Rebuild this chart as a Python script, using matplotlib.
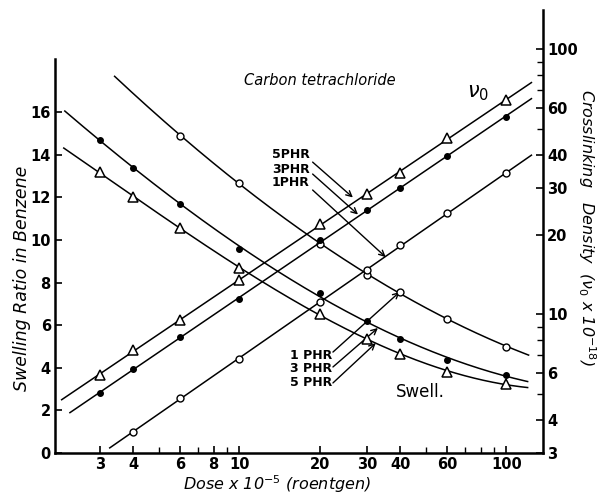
import numpy as np
import matplotlib
matplotlib.use('Agg')
import matplotlib.pyplot as plt
from matplotlib.ticker import FixedLocator, FixedFormatter, NullFormatter

plt.rcParams['mathtext.fontset'] = 'dejavusans'

# Dose (x 10^-5 roentgen)
dose = [3, 4, 6, 10, 20, 30, 40, 60, 100]

# Crosslinking density nu0 (x 10^-18) -- right axis
nu_5phr = [5.9, 7.35, 9.5, 13.5, 21.9, 28.5, 34.2, 46.3, 64.5]
nu_3phr = [5.05, 6.2, 8.2, 11.4, 19.1, 24.8, 30.0, 39.6, 55.6]
nu_1phr_dose = [4, 6, 10, 20, 30, 40, 60, 100]
nu_1phr = [3.6, 4.84, 6.8, 11.1, 14.7, 18.3, 24.1, 34.1]

# Swelling ratio in benzene -- left axis
sw_1phr_dose = [6, 10, 20, 30, 40, 60, 100]
sw_1phr = [14.9, 12.7, 9.8, 8.36, 7.56, 6.3, 5.0]
sw_3phr = [14.7, 13.4, 11.7, 9.6, 7.5, 6.2, 5.35, 4.37, 3.66]
sw_5phr = [13.2, 12.0, 10.55, 8.7, 6.55, 5.35, 4.65, 3.8, 3.24]

# dose extent of the drawn curves
nu_5phr_span = [2.16, 124]
nu_3phr_span = [2.32, 124]
nu_1phr_span = [3.27, 124]
sw_1phr_span = [3.41, 121]
sw_3phr_span = [2.22, 120]
sw_5phr_span = [2.2, 120]

x_ticks = [3, 4, 6, 8, 10, 20, 30, 40, 60, 100]
x_minor = [5, 7, 9, 50, 70, 80, 90]
left_ticks = [0, 2, 4, 6, 8, 10, 12, 14, 16]
right_ticks = [3, 4, 6, 10, 20, 30, 40, 60, 100]
right_minor = [5, 7, 8, 9, 50, 70, 80, 90]

fig = plt.figure(figsize=(6, 4.96), dpi=100)
ax = fig.add_axes([0.0917, 0.0867, 0.8133, 0.893])
ax.set_xscale('log')
ax.set_xlim(2.04, 137)
ax.set_ylim(0, 20.8)
ax2 = ax.twinx()
ax2.set_yscale('log')
ax2.set_ylim(3, 140.7)

lw = 1.1
def swell_curve(x, y, span):
    c = np.polyfit(np.log10(x), y, 3)
    xs = np.logspace(np.log10(span[0]), np.log10(span[1]), 200)
    ax.plot(xs, np.polyval(c, np.log10(xs)), 'k-', lw=lw, zorder=2)

def nu_curve(x, y, span):
    c = np.polyfit(np.log10(x), np.log10(y), 1)
    xs = np.logspace(np.log10(span[0]), np.log10(span[1]), 50)
    ax2.plot(xs, 10 ** np.polyval(c, np.log10(xs)), 'k-', lw=lw, zorder=2)

swell_curve(sw_1phr_dose, sw_1phr, sw_1phr_span)
swell_curve(dose, sw_3phr, sw_3phr_span)
swell_curve(dose, sw_5phr, sw_5phr_span)
nu_curve(dose, nu_5phr, nu_5phr_span)
nu_curve(dose, nu_3phr, nu_3phr_span)
nu_curve(nu_1phr_dose, nu_1phr, nu_1phr_span)

open_c = dict(marker='o', ls='none', ms=5, mfc='white', mec='k', mew=1.0, zorder=4)
fill_c = dict(marker='o', ls='none', ms=4, mfc='k', mec='k', zorder=4)
tri = dict(marker='^', ls='none', ms=7, mfc='white', mec='k', mew=1.1, zorder=4)

ax.plot(sw_1phr_dose, sw_1phr, **open_c)
ax.plot(dose, sw_3phr, **fill_c)
ax.plot(dose, sw_5phr, **tri)
ax2.plot(nu_1phr_dose, nu_1phr, **open_c)
ax2.plot(dose, nu_3phr, **fill_c)
ax2.plot(dose, nu_5phr, **tri)

# spines
for s in ['top', 'right']:
    ax.spines[s].set_visible(False)
for s in ['top', 'left', 'bottom']:
    ax2.spines[s].set_visible(False)
ax.spines['left'].set_bounds(0, 18.5)
for s in [ax.spines['left'], ax.spines['bottom'], ax2.spines['right']]:
    s.set_linewidth(1.8)

ax.xaxis.set_major_locator(FixedLocator(x_ticks))
ax.xaxis.set_major_formatter(FixedFormatter([str(t) for t in x_ticks]))
ax.xaxis.set_minor_locator(FixedLocator(x_minor))
ax.xaxis.set_minor_formatter(NullFormatter())
ax.yaxis.set_major_locator(FixedLocator(left_ticks))
ax.set_yticklabels([str(t) for t in left_ticks])
ax2.yaxis.set_major_locator(FixedLocator(right_ticks))
ax2.yaxis.set_major_formatter(FixedFormatter([str(t) for t in right_ticks]))
ax2.yaxis.set_minor_locator(FixedLocator(right_minor))
ax2.yaxis.set_minor_formatter(NullFormatter())
for a in (ax, ax2):
    a.tick_params(which='major', direction='in', length=5, width=1.2, labelsize=10.5, pad=3)
    a.tick_params(which='minor', direction='in', length=4, width=1.0)
ax.tick_params(axis='x', which='major', pad=3)
for lab in ax.get_xticklabels() + ax.get_yticklabels() + ax2.get_yticklabels():
    lab.set_fontweight('bold')

# axis labels
ax.set_ylabel('Swelling Ratio in Benzene', fontsize=12.5, style='italic', va='center')
ax.yaxis.set_label_coords(-0.068, 0.395)
ax.set_xlabel(r'Dose x 10$^{-5}$ (roentgen)', fontsize=11.5, style='italic', va='center')
ax.xaxis.set_label_coords(0.455, -0.07)
ax2.set_ylabel(r'Crosslinking   Density  ($\nu_0$ x 10$^{-18}$)', fontsize=11.5, style='italic',
               rotation=270, va='center')
ax2.yaxis.set_label_coords(1.09, 0.508)

# annotations
ax.text(20.0, 17.5, 'Carbon tetrachloride', ha='center', va='center', fontsize=10.5, style='italic')
ax.text(78, 16.9, r'$\nu_0$', ha='center', va='center', fontsize=15)
ax.text(47.7, 2.86, 'Swell.', ha='center', va='center', fontsize=12)

arrow = dict(arrowstyle='->', lw=1.0, color='k', shrinkA=0, shrinkB=0)
upper = [('5PHR', 14.0, (26.6, 12.0), 13.66),
         ('3PHR', 13.33, (27.8, 11.2), 13.1),
         ('1PHR', 12.68, (35.3, 9.2), 12.35)]
for lab, y, tip, ty in upper:
    ax.text(18.3, y, lab, ha='right', va='center', fontsize=9, fontweight='bold')
    ax.annotate('', xy=tip, xytext=(18.8, ty), arrowprops=arrow)

lower = [('1 PHR', 4.6, (39.8, 7.56), 4.74),
         ('3 PHR', 3.99, (33.0, 5.87), 4.04),
         ('5 PHR', 3.33, (32.4, 5.16), 3.29)]
for lab, y, tip, ty in lower:
    ax.text(22.2, y, lab, ha='right', va='center', fontsize=9, fontweight='bold')
    ax.annotate('', xy=tip, xytext=(22.4, ty), arrowprops=arrow)

fig.savefig('out.png', dpi=100)
